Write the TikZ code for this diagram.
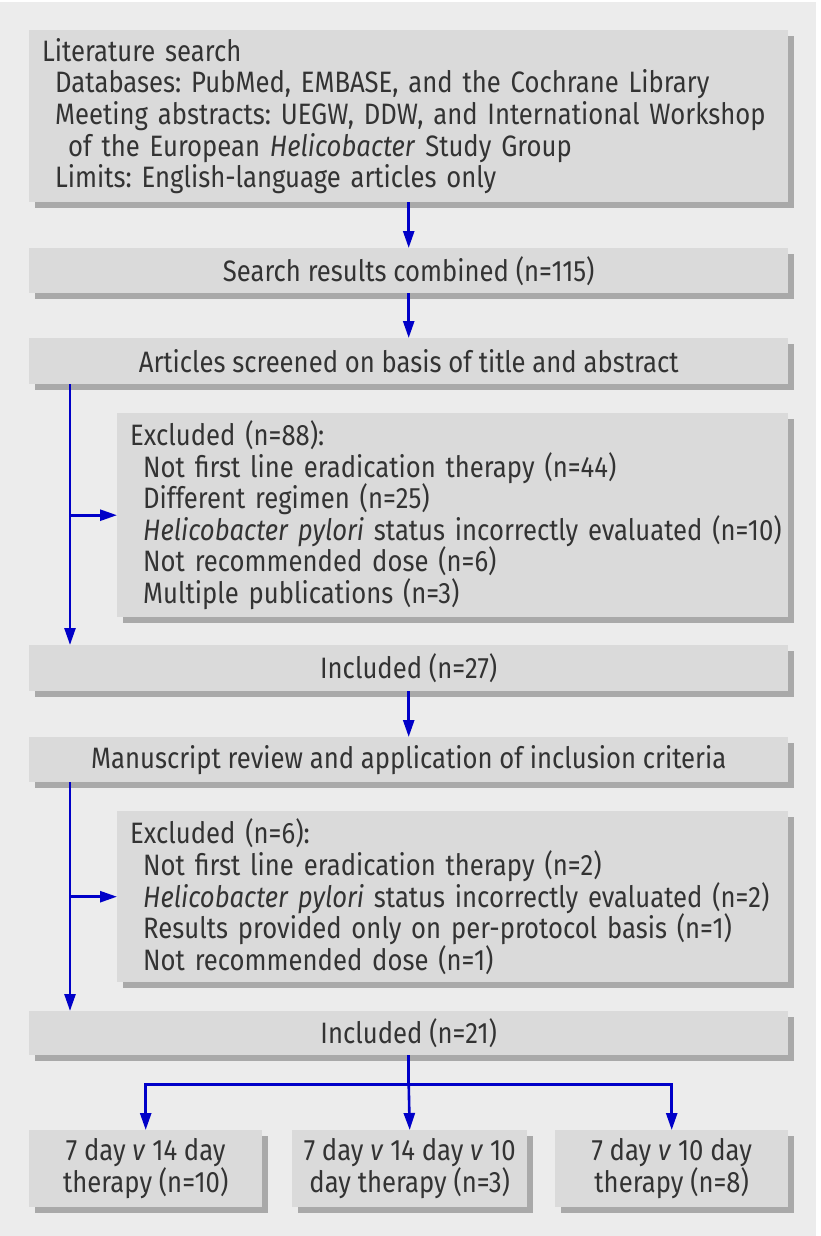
\documentclass[tikz,border=0pt]{standalone}
\usepackage{fontspec}
\setmainfont{Fira Sans}[FakeStretch=0.87]
\frenchspacing
\usetikzlibrary{arrows.meta,shadows}
\definecolor{bgc}{HTML}{ECECEC}
\definecolor{boxc}{HTML}{DADADA}
\definecolor{shc}{HTML}{A9A9A9}
\definecolor{txc}{HTML}{333333}
\definecolor{arc}{RGB}{0,0,200}
\begin{document}
\begin{tikzpicture}[x=1pt,y=-1pt,
  box/.style={draw=none,fill=boxc,rectangle,inner sep=0pt,text=txc,
    drop shadow={shadow xshift=6pt,shadow yshift=-6pt,fill=shc,opacity=1}},
  lbox/.style={box,anchor=north west,align=left,inner xsep=13pt},
  cbox/.style={box,anchor=north west,align=center},
  arr/.style={draw=arc,line width=2.6pt,-{Triangle[length=17pt,width=11pt]}},
  ln/.style={draw=arc,line width=2.6pt},
  every node/.style={font=\fontsize{29.5}{31.6}\selectfont\frenchspacing}]
\useasboundingbox (0,0) rectangle (820,1236);
\fill[white] (0,0) rectangle (820,1236);
\fill[bgc] (0,2) rectangle (816,1236);

% boxes
\node[lbox,minimum width=759pt,minimum height=172pt,text width=733pt] (b1) at (29,30)
  {\mbox{Literature search}\\
   \mbox{\hspace*{13pt}Databases: PubMed, EMBASE, and the Cochrane Library}\\
   \mbox{\hspace*{13pt}Meeting abstracts: UEGW, DDW, and International Workshop}\\
   \mbox{\hspace*{26pt}of the European \emph{Helicobacter} Study Group}\\
   \mbox{\hspace*{13pt}Limits: English-language articles only}};
\node[cbox,minimum width=759pt,minimum height=45pt] (b2) at (29,248)
  {Search results combined (n=115)};
\node[cbox,minimum width=759pt,minimum height=46pt] (b3) at (29,338)
  {Articles screened on basis of title and abstract};
\node[lbox,minimum width=671pt,minimum height=204pt,text width=645pt] (e1) at (117,413)
  {\mbox{Excluded (n=88):}\\
   \mbox{\hspace*{13pt}Not first line eradication therapy (n=44)}\\
   \mbox{\hspace*{13pt}Different regimen (n=25)}\\
   \mbox{\hspace*{13pt}\emph{Helicobacter pylori} status incorrectly evaluated (n=10)}\\
   \mbox{\hspace*{13pt}Not recommended dose (n=6)}\\
   \mbox{\hspace*{13pt}Multiple publications (n=3)}};
\node[cbox,minimum width=759pt,minimum height=46pt] (b4) at (29,645)
  {Included (n=27)};
\node[cbox,minimum width=759pt,minimum height=45pt] (b5) at (29,737)
  {Manuscript review and application of inclusion criteria};
\node[lbox,minimum width=671pt,minimum height=171pt,text width=645pt] (e2) at (117,811)
  {\mbox{Excluded (n=6):}\\
   \mbox{\hspace*{13pt}Not first line eradication therapy (n=2)}\\
   \mbox{\hspace*{13pt}\emph{Helicobacter pylori} status incorrectly evaluated (n=2)}\\
   \mbox{\hspace*{13pt}Results provided only on per-protocol basis (n=1)}\\
   \mbox{\hspace*{13pt}Not recommended dose (n=1)}};
\node[cbox,minimum width=759pt,minimum height=44pt] (b6) at (29,1011)
  {Included (n=21)};
\node[cbox,minimum width=233pt,minimum height=77pt] (c1) at (29,1130)
  {7 day \emph{v} 14 day\\therapy (n=10)};
\node[cbox,minimum width=235pt,minimum height=77pt] (c2) at (292,1130)
  {7 day \emph{v} 14 day \emph{v} 10\\day therapy (n=3)};
\node[cbox,minimum width=233pt,minimum height=77pt] (c3) at (555,1130)
  {7 day \emph{v} 10 day\\therapy (n=8)};

% connectors
\draw[arr] (b1.south) -- (b2.north);
\draw[arr] (b2.south) -- (b3.north);
\coordinate (t1) at ([xshift=41pt]b3.south west);
\coordinate (t1e) at ([xshift=41pt]b4.north west);
\draw[arr] (t1) -- (t1e);
\draw[arr] (t1 |- e1.west) -- (e1.west);
\draw[arr] (b4.south) -- (b5.north);
\coordinate (t2) at ([xshift=41pt]b5.south west);
\coordinate (t2e) at ([xshift=41pt]b6.north west);
\draw[arr] (t2) -- (t2e);
\draw[arr] (t2 |- e2.west) -- (e2.west);
\coordinate (sp) at ([yshift=-29pt]b6.south);
\draw[ln] (b6.south) -- (sp);
\draw[arr] (sp) -| (c1.north);
\draw[arr] (sp) -| (c3.north);
\draw[arr] (sp) -- (c2.north);
\end{tikzpicture}
\end{document}
